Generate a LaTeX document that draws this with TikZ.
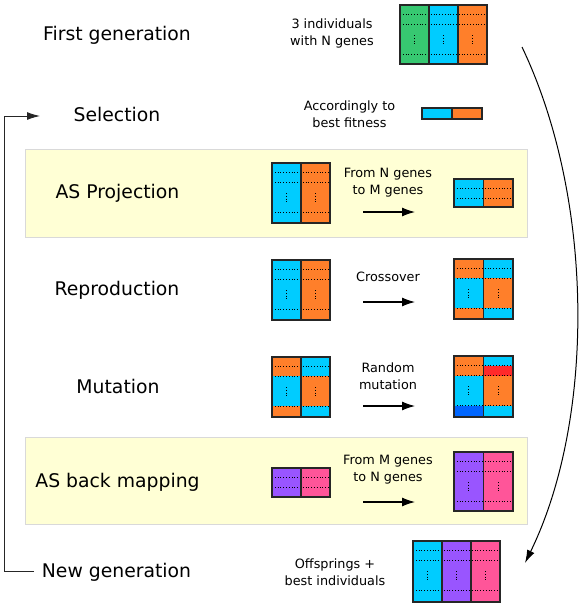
\documentclass[tikz,border=0pt]{standalone}
\usepackage{fontspec}
\setmainfont{DejaVu Sans}
\usetikzlibrary{arrows.meta}
\definecolor{genegreen}{HTML}{37C871}
\definecolor{geneblue}{HTML}{00CCFF}
\definecolor{geneorange}{HTML}{FF7F2A}
\definecolor{genepurple}{HTML}{9955FF}
\definecolor{genepink}{HTML}{FF5599}
\definecolor{genered}{HTML}{FF2A2A}
\definecolor{genedeep}{HTML}{0066FF}
\definecolor{panelyellow}{HTML}{FFFFD5}
\begin{document}
\begin{tikzpicture}[x=1pt, y=-1pt,
    rowlabel/.style={anchor=base, font=\fontsize{18.8}{21}\selectfont},
    note/.style={align=center, font=\fontsize{12.8}{17}\selectfont},
    panel/.style={fill=panelyellow, draw=black!15, line width=1pt, inner sep=0pt},
    block/.style={draw=black!85, line width=1.2pt, inner sep=0pt},
    divider/.style={draw=black!85, line width=1.2pt},
    genedots/.style={dash pattern=on 0.9pt off 1.9pt, line width=0.9pt},
    arrow/.style={-{Latex[length=13pt, width=9pt]}, line width=1.1pt}
  ]
  \useasboundingbox (0,0) rectangle (581,606);

  % yellow panels
  \node[panel, minimum width=502pt, minimum height=88pt] (projpanel) at (276,193) {};
  \node[panel, minimum width=502pt, minimum height=87pt] (backpanel) at (276,480.5) {};

  % steps
  \node[rowlabel] (firstgen)     at (117,40)  {First generation};
  \node[rowlabel] (selection)    at (117,121) {Selection};
  \node[rowlabel] (projection)   at (117.5,198) {AS Projection};
  \node[rowlabel] (reproduction) at (117,295) {Reproduction};
  \node[rowlabel] (mutation)     at (118,393) {Mutation};
  \node[rowlabel] (backmap)      at (117.5,487) {AS back mapping};
  \node[rowlabel] (newgen)       at (116.5,577) {New generation};

  % notes
  \node[note] (firstnote) at (332,33.5)  {3 individuals\\with N genes};
  \node[note] (selnote)   at (349.5,114.5) {Accordingly to\\best fitness};
  \node[note] (projnote)  at (388,182.5) {From N genes\\to M genes};
  \node[note] (crossnote) at (388,277)   {Crossover};
  \node[note] (mutnote)   at (388,376.5) {Random\\mutation};
  \node[note] (backnote)  at (388,469.5) {From M genes\\to N genes};
  \node[note] (offnote)   at (335,572)   {Offsprings +\\best individuals};

  % colours of the individuals
  \foreach \c [count=\i from 0] in {genegreen,geneblue,geneorange}
    \fill[\c] ({400+29*\i},5) rectangle ++(29,59);
  \fill[geneblue] (422,108) rectangle (452,119);
  \fill[geneorange] (452,108) rectangle (482,119);
  \fill[geneblue] (272,163) rectangle (301,223);
  \fill[geneorange] (301,163) rectangle (330,223);
  \fill[geneblue] (454,179) rectangle (483.5,207);
  \fill[geneorange] (483.5,179) rectangle (513,207);
  \fill[geneblue] (272,260) rectangle (301,320);
  \fill[geneorange] (301,260) rectangle (330,320);
  \fill[geneorange] (454,259) rectangle (483.5,319);
  \fill[geneblue] (454,278) rectangle (483.5,308);
  \fill[geneblue] (483.5,259) rectangle (513,319);
  \fill[geneorange] (483.5,278) rectangle (513,308);
  \fill[geneorange] (272,357) rectangle (301,417);
  \fill[geneblue] (272,376) rectangle (301,406);
  \fill[geneblue] (301,357) rectangle (330,417);
  \fill[geneorange] (301,376) rectangle (330,406);
  \fill[geneorange] (454,356) rectangle (483.5,376);
  \fill[geneblue] (454,376) rectangle (483.5,406);
  \fill[genedeep] (454,406) rectangle (483.5,417);
  \fill[geneblue] (483.5,356) rectangle (513,417);
  \fill[genered] (483.5,366) rectangle (513,376);
  \fill[geneorange] (483.5,376) rectangle (513,406);
  \fill[genepurple] (272,468) rectangle (301,497);
  \fill[genepink] (301,468) rectangle (330,497);
  \fill[genepurple] (454,452) rectangle (483.5,511);
  \fill[genepink] (483.5,452) rectangle (513,511);
  \foreach \c [count=\i from 0] in {geneblue,genepurple,genepink}
    \fill[\c] ({413+29*\i},541) rectangle ++(29,61);

  % genes (dotted)
  \foreach \l/\r/\t in {400/487/5, 272/330/163, 272/330/260, 454/513/259,
      272/330/357, 454/513/356, 454/513/452, 413/500/541}
    \foreach \d in {9.5,19,49}
      \draw[genedots] (\l,\t+\d) -- (\r,\t+\d);
  \foreach \l/\r/\t in {454/513/179, 272/330/468}
    \foreach \d in {9.5,19}
      \draw[genedots] (\l,\t+\d) -- (\r,\t+\d);
  \foreach \x/\t in {414.5/5, 443.5/5, 472.5/5, 286.5/163, 315.5/163,
      286.5/260, 315.5/260, 468.75/259, 498.25/259, 286.5/357, 315.5/357,
      468.75/356, 498.25/356, 468.75/452, 498.25/452,
      427.5/541, 456.5/541, 485.5/541}
    \draw[genedots] (\x,\t+30) -- (\x,\t+40);

  % outlines
  \node[block, minimum width=87pt, minimum height=59pt] (firstblock) at (443.5,34.5) {};
  \node[block, minimum width=60pt, minimum height=11pt] (selblock) at (452,113.5) {};
  \node[block, minimum width=58pt, minimum height=60pt] (projleft) at (301,193) {};
  \node[block, minimum width=59pt, minimum height=28pt] (projright) at (483.5,193) {};
  \node[block, minimum width=58pt, minimum height=60pt] (crossleft) at (301,290) {};
  \node[block, minimum width=59pt, minimum height=60pt] (crossright) at (483.5,289) {};
  \node[block, minimum width=58pt, minimum height=60pt] (mutleft) at (301,387) {};
  \node[block, minimum width=59pt, minimum height=61pt] (mutright) at (483.5,386.5) {};
  \node[block, minimum width=58pt, minimum height=29pt] (backleft) at (301,482.5) {};
  \node[block, minimum width=59pt, minimum height=59pt] (backright) at (483.5,481.5) {};
  \node[block, minimum width=87pt, minimum height=61pt] (newblock) at (456.5,571.5) {};
  \draw[divider] (firstblock.north) ++(-14.5,0) -- ++(0,59) ++(29,0) -- ++(0,-59);
  \draw[divider] (selblock.north) -- (selblock.south);
  \draw[divider] (projleft.north) -- (projleft.south);
  \draw[divider] (projright.north) -- (projright.south);
  \draw[divider] (crossleft.north) -- (crossleft.south);
  \draw[divider] (crossright.north) -- (crossright.south);
  \draw[divider] (mutleft.north) -- (mutleft.south);
  \draw[divider] (mutright.north) -- (mutright.south);
  \draw[divider] (backleft.north) -- (backleft.south);
  \draw[divider] (backright.north) -- (backright.south);
  \draw[divider] (newblock.north) ++(-14.5,0) -- ++(0,61) ++(29,0) -- ++(0,-61);

  % arrows
  \coordinate (projfrom)  at (363,212);
  \coordinate (projto)    at (415,212);
  \coordinate (crossfrom) at (363,302);
  \coordinate (crossto)   at (415,302);
  \coordinate (mutfrom)   at (363,406);
  \coordinate (mutto)     at (415,406);
  \coordinate (backfrom)  at (363,502);
  \coordinate (backto)    at (415,502);
  \draw[arrow] (projfrom) -- (projto);
  \draw[arrow] (crossfrom) -- (crossto);
  \draw[arrow] (mutfrom) -- (mutto);
  \draw[arrow] (backfrom) -- (backto);

  \coordinate (loopout) at (522,47);
  \coordinate (loopin)  at (525,563);
  \draw[-{Latex[length=13pt, width=8pt]}, line width=1pt]
    (loopout) .. controls (595,200) and (595,420) .. (loopin);

  \coordinate (backstart) at (34,571);
  \coordinate (backend)   at (40,116);
  \draw[-{Latex[length=13pt, width=8pt]}, line width=1pt, black!85]
    (backstart) -- (4.5,571) |- (backend);
\end{tikzpicture}
\end{document}
